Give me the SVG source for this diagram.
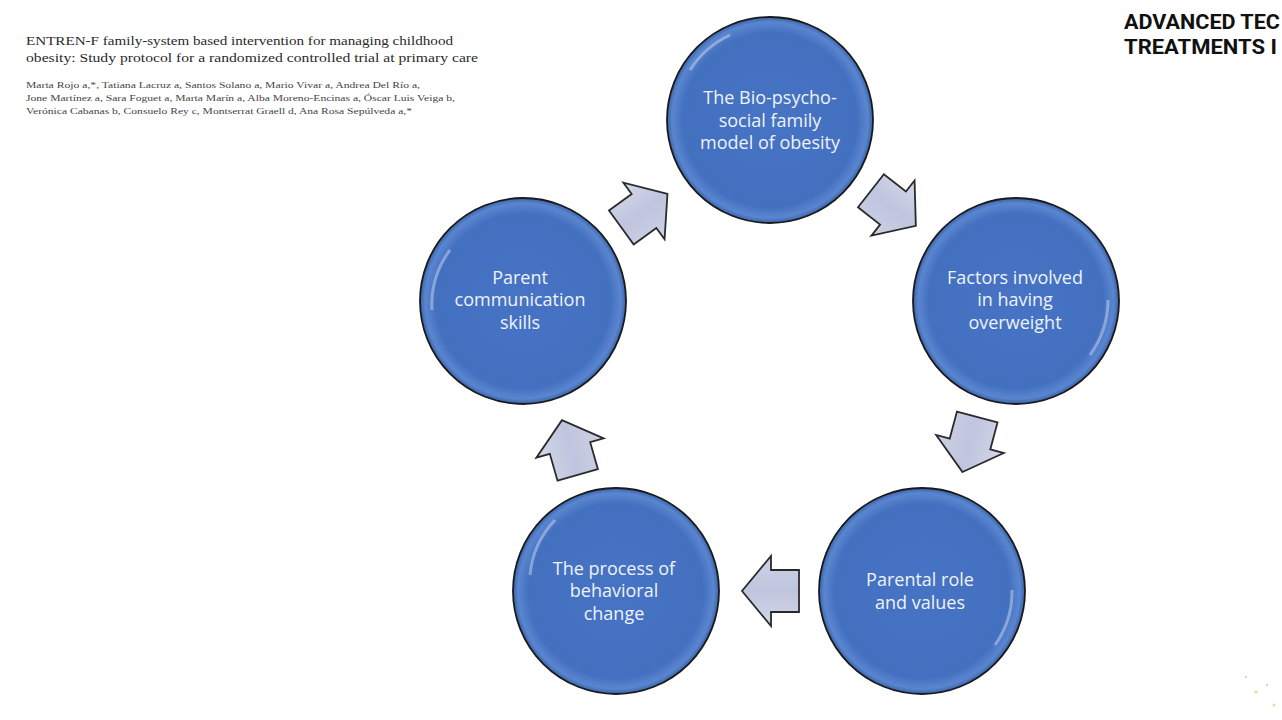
<svg xmlns="http://www.w3.org/2000/svg" width="1282" height="720" viewBox="0 0 1282 720">
<defs>
<radialGradient id="cg" cx="50%" cy="50%" r="50%">
<stop offset="0" stop-color="#4673c3"/>
<stop offset="0.85" stop-color="#4470c0"/>
<stop offset="0.95" stop-color="#5a86d0"/>
<stop offset="1" stop-color="#3a62a8"/>
</radialGradient>
<linearGradient id="ag" x1="0" y1="0" x2="0" y2="1">
<stop offset="0" stop-color="#d3d7e8"/>
<stop offset="0.5" stop-color="#bfc5de"/>
<stop offset="1" stop-color="#cdd1e4"/>
</linearGradient>
<path id="arr" d="M29,0 L0,-35 L0,-21 L-28,-21 L-28,21 L0,21 L0,35 Z"/>
</defs>
<style>
.circ{fill:url(#cg);stroke:#1a1a1a;stroke-width:1.8}
.gl{fill:none;stroke:#ffffff;stroke-opacity:0.35;stroke-width:3}
.lbl{font-family:"Open Sans","Liberation Sans",sans-serif;font-size:18px;fill:#eef2fa;text-anchor:middle}
.ar{fill:url(#ag);stroke:#2a2a2a;stroke-width:1.8;stroke-linejoin:miter}
.ttl{font-family:"Liberation Serif",serif;font-size:13.5px;fill:#2a2a2a}
.au{font-family:"Liberation Serif",serif;font-size:9px;fill:#444}
.hd{font-family:"Roboto","Liberation Sans",sans-serif;font-weight:bold;font-size:21px;fill:#111}
</style>
<rect width="1282" height="720" fill="#ffffff"/>

<g id="header">
<text class="ttl" x="26" y="45" textLength="427" lengthAdjust="spacingAndGlyphs">ENTREN-F family-system based intervention for managing childhood</text>
<text class="ttl" x="26" y="62" textLength="452" lengthAdjust="spacingAndGlyphs">obesity: Study protocol for a randomized controlled trial at primary care</text>
<text class="au" x="26" y="88" textLength="394" lengthAdjust="spacingAndGlyphs">Marta Rojo a,*, Tatiana Lacruz a, Santos Solano a, Mario Vivar a, Andrea Del Río a,</text>
<text class="au" x="26" y="101" textLength="429" lengthAdjust="spacingAndGlyphs">Jone Martínez a, Sara Foguet a, Marta Marín a, Alba Moreno-Encinas a, Óscar Luis Veiga b,</text>
<text class="au" x="26" y="114" textLength="386" lengthAdjust="spacingAndGlyphs">Verónica Cabanas b, Consuelo Rey c, Montserrat Graell d, Ana Rosa Sepúlveda a,*</text>
</g>

<g id="logo">
<text class="hd" x="1124" y="29" textLength="156" lengthAdjust="spacingAndGlyphs">ADVANCED TEC</text>
<text class="hd" x="1124" y="54" textLength="153" lengthAdjust="spacingAndGlyphs">TREATMENTS I</text>
</g>

<g id="connectors">
<use href="#arr" class="ar" transform="translate(644,211) rotate(-36)"/>
<use href="#arr" class="ar" transform="translate(893,208) rotate(38)"/>
<use href="#arr" class="ar" transform="translate(970,444) rotate(105)"/>
<use href="#arr" class="ar" transform="translate(771,591) rotate(180)"/>
<use href="#arr" class="ar" transform="translate(570,448) rotate(-106)"/>
</g>

<g id="n1">
<circle class="circ" cx="770" cy="120" r="103"/>
<path class="gl" d="M690,70 A95,95 0 0 1 730,35"/>
<text class="lbl" x="770" y="104">The Bio-psycho-</text>
<text class="lbl" x="770" y="127">social family</text>
<text class="lbl" x="770" y="149">model of obesity</text>
</g>
<g id="n2">
<circle class="circ" cx="1016" cy="301" r="103"/>
<path class="gl" d="M1108,300 A95,95 0 0 1 1090,355"/>
<text class="lbl" x="1015" y="284">Factors involved</text>
<text class="lbl" x="1015" y="306">in having</text>
<text class="lbl" x="1015" y="329">overweight</text>
</g>
<g id="n3">
<circle class="circ" cx="922" cy="591" r="103"/>
<path class="gl" d="M1012,590 A92,92 0 0 1 995,645"/>
<text class="lbl" x="920" y="586">Parental role</text>
<text class="lbl" x="920" y="609">and values</text>
</g>
<g id="n4">
<circle class="circ" cx="616" cy="591" r="103"/>
<path class="gl" d="M530,575 A92,92 0 0 1 555,520"/>
<text class="lbl" x="614" y="575">The process of</text>
<text class="lbl" x="614" y="597">behavioral</text>
<text class="lbl" x="614" y="620">change</text>
</g>
<g id="n5">
<circle class="circ" cx="523" cy="301" r="103"/>
<path class="gl" d="M432,310 A92,92 0 0 1 450,250"/>
<text class="lbl" x="520" y="284">Parent</text>
<text class="lbl" x="520" y="306">communication</text>
<text class="lbl" x="520" y="329">skills</text>
</g>

<g id="dots" fill="#c8b860" fill-opacity="0.5">
<circle cx="1246" cy="677" r="1.2"/>
<circle cx="1256" cy="692" r="1.8"/>
<circle cx="1267" cy="685" r="1.2"/>
<circle cx="1274" cy="705" r="1.6"/>
</g>
</svg>
